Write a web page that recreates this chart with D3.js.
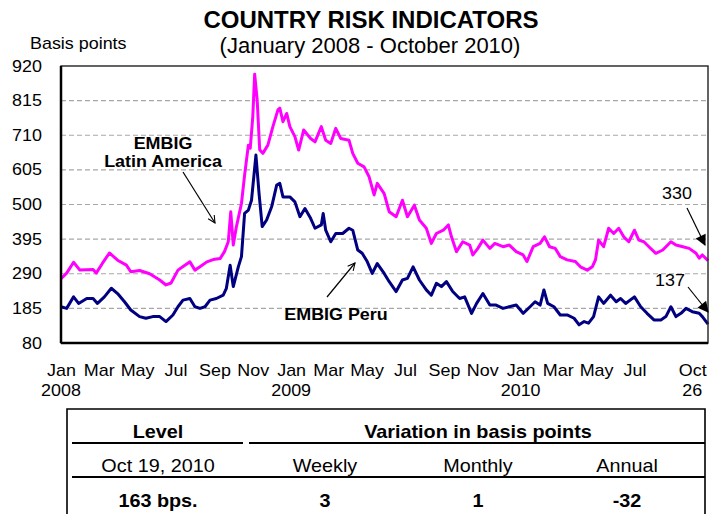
<!DOCTYPE html>
<html>
<head>
<meta charset="utf-8">
<title>Country Risk Indicators</title>
<style>
  body { margin: 0; background: #fff; }
  svg text { font-family: "Liberation Sans", Arial, sans-serif; fill: #000; }
  .grid line { stroke: #a8a8a8; stroke-width: 1.2; stroke-dasharray: 5,3; }
  .axis path, .axis line { display: none; }
  .axis text { font-size: 16px; }
</style>
</head>
<body>
<svg width="713" height="514"></svg>
<script src="https://d3js.org/d3.v7.min.js"></script>
<script>
// EMBIG Latin America (basis points)
var latamDates = ["2008-01-01","2008-01-10","2008-01-21","2008-01-31","2008-02-21","2008-02-26","2008-03-07","2008-03-18","2008-03-31","2008-04-14","2008-04-21","2008-05-05","2008-05-21","2008-06-06","2008-06-16","2008-06-24","2008-07-05","2008-07-16","2008-07-24","2008-08-01","2008-08-09","2008-08-20","2008-08-30","2008-09-10","2008-09-17","2008-09-23","2008-09-27","2008-10-01","2008-10-06","2008-10-14","2008-10-19","2008-10-25","2008-10-28","2008-11-01","2008-11-04","2008-11-08","2008-11-12","2008-11-17","2008-11-25","2008-12-03","2008-12-11","2008-12-14","2008-12-19","2008-12-25","2008-12-30","2009-01-07","2009-01-13","2009-01-21","2009-02-01","2009-02-08","2009-02-18","2009-02-25","2009-03-05","2009-03-13","2009-03-21","2009-04-03","2009-04-09","2009-04-17","2009-04-27","2009-05-05","2009-05-13","2009-05-18","2009-05-29","2009-06-06","2009-06-17","2009-06-27","2009-07-05","2009-07-16","2009-07-24","2009-08-04","2009-08-12","2009-08-20","2009-08-31","2009-09-08","2009-09-13","2009-09-21","2009-10-01","2009-10-12","2009-10-17","2009-10-25","2009-11-02","2009-11-13","2009-11-21","2009-12-04","2009-12-14","2009-12-25","2010-01-05","2010-01-11","2010-01-21","2010-02-01","2010-02-08","2010-02-16","2010-02-25","2010-03-05","2010-03-16","2010-03-29","2010-04-06","2010-04-17","2010-04-25","2010-04-30","2010-05-05","2010-05-13","2010-05-21","2010-05-29","2010-06-06","2010-06-14","2010-06-22","2010-07-01","2010-07-08","2010-07-16","2010-07-24","2010-08-04","2010-08-15","2010-08-28","2010-09-05","2010-09-16","2010-09-26","2010-10-07","2010-10-12","2010-10-17","2010-10-26"];
var latamValues = [275,292,325,301,303,292,322,353,331,316,296,300,290,271,256,262,301,316,326,301,311,326,333,336,357,387,478,377,433,503,589,680,671,766,895,817,666,655,680,736,787,792,751,776,736,706,665,726,700,690,736,695,685,731,700,695,655,625,614,584,529,564,533,478,463,513,463,498,453,428,382,412,422,438,402,357,387,377,347,367,392,367,382,372,377,357,347,327,372,382,402,372,367,342,332,327,311,301,311,332,392,372,428,412,428,402,387,422,392,387,372,352,362,387,377,372,367,352,337,347,330];

// EMBIG Peru (basis points)
var peruDates = ["2008-01-01","2008-01-10","2008-01-21","2008-01-29","2008-02-11","2008-02-21","2008-02-28","2008-03-10","2008-03-21","2008-03-31","2008-04-11","2008-04-21","2008-05-05","2008-05-15","2008-05-26","2008-06-06","2008-06-16","2008-06-27","2008-07-05","2008-07-13","2008-07-24","2008-08-01","2008-08-09","2008-08-17","2008-08-25","2008-09-04","2008-09-15","2008-09-20","2008-09-26","2008-10-01","2008-10-09","2008-10-14","2008-10-19","2008-10-25","2008-10-30","2008-11-06","2008-11-11","2008-11-16","2008-11-23","2008-12-01","2008-12-09","2008-12-14","2008-12-19","2008-12-30","2009-01-07","2009-01-15","2009-01-23","2009-02-01","2009-02-08","2009-02-18","2009-02-21","2009-02-25","2009-03-05","2009-03-13","2009-03-24","2009-04-03","2009-04-09","2009-04-17","2009-04-24","2009-05-02","2009-05-10","2009-05-18","2009-05-29","2009-06-06","2009-06-17","2009-06-27","2009-07-05","2009-07-14","2009-07-24","2009-08-04","2009-08-12","2009-08-20","2009-08-28","2009-09-05","2009-09-15","2009-09-26","2009-10-04","2009-10-15","2009-10-23","2009-11-02","2009-11-13","2009-11-23","2009-12-04","2009-12-14","2009-12-25","2010-01-05","2010-01-16","2010-01-24","2010-02-01","2010-02-07","2010-02-13","2010-02-23","2010-03-05","2010-03-16","2010-03-27","2010-04-04","2010-04-12","2010-04-19","2010-04-27","2010-05-05","2010-05-13","2010-05-24","2010-06-02","2010-06-09","2010-06-17","2010-07-01","2010-07-11","2010-07-21","2010-08-01","2010-08-12","2010-08-20","2010-08-28","2010-09-05","2010-09-13","2010-09-21","2010-10-01","2010-10-12","2010-10-17","2010-10-26"];
var peruValues = [190,185,220,200,215,215,200,220,246,230,205,180,160,155,160,160,145,165,190,210,215,190,185,190,210,215,225,246,316,251,311,342,473,483,513,650,533,433,453,493,559,564,523,523,508,463,488,458,428,438,473,422,387,412,412,428,422,362,352,327,291,321,291,266,236,271,276,311,271,241,225,261,251,266,236,215,220,170,200,230,195,195,185,190,195,170,190,205,195,241,200,190,165,165,155,135,145,140,160,220,200,225,205,215,200,220,190,170,150,150,160,190,160,170,185,175,170,160,137];

var yTicks = [80,185,290,395,500,605,710,815,920];
var monthTicks = ["2008-01-01","2008-03-01","2008-05-01","2008-07-01","2008-09-01","2008-11-01","2009-01-01","2009-03-01","2009-05-01","2009-07-01","2009-09-01","2009-11-01","2010-01-01","2010-03-01","2010-05-01","2010-07-01","2010-10-01"];
var yearTicks = ["2008-01-01","2009-01-01","2010-01-01","2010-10-01"];
var yearLabels = ["2008","2009","2010","26"];

var tableHead = ["Level","Variation in basis points"];
var tableSub = ["Oct 19, 2010","Weekly","Monthly","Annual"];
var tableVals = ["163 bps.","3","1","-32"];

var parse = d3.timeParse("%Y-%m-%d");
var SX = 1.12; // text in the picture is a little wide

var margin = {left: 61, right: 5, top: 66, bottom: 171};
var svg = d3.select("svg");
var W = 713, H = 514;
var x0 = margin.left, x1 = W - margin.right, y0 = margin.top, y1 = H - margin.bottom;

var x = d3.scaleTime()
  .domain([parse("2008-01-01"), parse("2010-10-26")])
  .range([x0, x1]);
var y = d3.scaleLinear()
  .domain([80, 920])
  .range([y1, y0]);

function label(txt, px, py, size, weight, anchor, sx) {
  return svg.append("text")
    .attr("transform", "translate(" + px + "," + py + ") scale(" + (sx || 1) + ",1)")
    .attr("text-anchor", anchor || "middle")
    .style("font-size", size + "px")
    .style("font-weight", weight || "normal")
    .text(txt);
}

// titles
label("COUNTRY RISK INDICATORS", 371, 28, 24, "bold");
label("(January 2008 - October 2010)", 370, 53, 22);
label("Basis points", 30, 49, 16, "normal", "start", SX);

// grid
svg.append("g").attr("class", "grid")
  .selectAll("line")
  .data(yTicks.slice(1, -1))
  .enter().append("line")
  .attr("x1", x0).attr("x2", x1)
  .attr("y1", function(d) { return y(d); })
  .attr("y2", function(d) { return y(d); });

// series
var line = d3.line()
  .x(function(d) { return x(d[0]); })
  .y(function(d) { return y(d[1]); });

var latam = latamDates.map(function(d, i) { return [parse(d), latamValues[i]]; });
var peru = peruDates.map(function(d, i) { return [parse(d), peruValues[i]]; });

svg.append("path").datum(latam)
  .attr("d", line)
  .attr("fill", "none").attr("stroke", "#ff00ff")
  .attr("stroke-width", 3).attr("stroke-linejoin", "round");

svg.append("path").datum(peru)
  .attr("d", line)
  .attr("fill", "none").attr("stroke", "#000080")
  .attr("stroke-width", 3).attr("stroke-linejoin", "round");

// frame
svg.append("rect")
  .attr("x", x0).attr("y", y0)
  .attr("width", x1 - x0).attr("height", y1 - y0)
  .attr("fill", "none").attr("stroke", "#222").attr("stroke-width", 1.4);
svg.append("line").attr("x1", x0).attr("x2", x0).attr("y1", y0).attr("y2", y1)
  .attr("stroke", "#000").attr("stroke-width", 2.5);
svg.append("line").attr("x1", x0).attr("x2", x1).attr("y1", y1).attr("y2", y1)
  .attr("stroke", "#000").attr("stroke-width", 2.5);

// axes
var yAxis = d3.axisLeft(y).tickValues(yTicks).tickSize(0).tickPadding(17);
svg.append("g").attr("class", "axis")
  .attr("transform", "translate(" + x0 + ",0)")
  .call(yAxis)
  .selectAll("text").attr("transform", "scale(" + SX + ",1)");

var xAxis = d3.axisBottom(x)
  .tickValues(monthTicks.map(parse))
  .tickFormat(d3.timeFormat("%b"))
  .tickSize(0).tickPadding(22);
svg.append("g").attr("class", "axis")
  .attr("transform", "translate(0," + y1 + ")")
  .call(xAxis)
  .selectAll("text").attr("transform", "scale(" + SX + ",1)");

svg.append("g").selectAll("text")
  .data(yearTicks)
  .enter().append("text")
  .attr("transform", function(d) { return "translate(" + x(parse(d)) + ",396) scale(" + SX + ",1)"; })
  .attr("text-anchor", "middle")
  .style("font-size", "16px")
  .text(function(d, i) { return yearLabels[i]; });

// annotations
var defs = svg.append("defs");
defs.append("marker").attr("id", "open")
  .attr("viewBox", "0 0 10 10").attr("refX", 9).attr("refY", 5)
  .attr("markerWidth", 9).attr("markerHeight", 9).attr("orient", "auto")
  .attr("markerUnits", "userSpaceOnUse")
  .append("path").attr("d", "M1,1 L9,5 L1,9").attr("fill", "none").attr("stroke", "#000").attr("stroke-width", 1.2);
defs.append("marker").attr("id", "solid")
  .attr("viewBox", "0 0 10 10").attr("refX", 9).attr("refY", 5)
  .attr("markerWidth", 13).attr("markerHeight", 11).attr("orient", "auto")
  .attr("markerUnits", "userSpaceOnUse")
  .append("path").attr("d", "M0,0 L10,5 L0,10 Z").attr("fill", "#000");

function arrow(ax, ay, bx, by, head) {
  svg.append("line")
    .attr("x1", ax).attr("y1", ay).attr("x2", bx).attr("y2", by)
    .attr("stroke", "#000").attr("stroke-width", 1.2)
    .attr("marker-end", "url(#" + head + ")");
}

label("EMBIG", 163, 149, 16, "bold", "middle", SX);
label("Latin America", 163, 167, 16, "bold", "middle", SX);
arrow(183, 172, 215, 223, "open");

label("EMBIG Peru", 336, 320, 16, "bold", "middle", SX);
arrow(327, 297, 355, 263, "open");

label("330", 677, 199, 16, "normal", "middle", SX);
arrow(687, 208, 705, 245, "solid");
label("137", 670, 286, 16, "normal", "middle", SX);
arrow(688, 287, 708, 312, "solid");

// table
svg.append("path")
  .attr("d", "M67,514 V409 H705 V514")
  .attr("fill", "none").attr("stroke", "#000").attr("stroke-width", 1.6);
svg.append("line").attr("x1", 72).attr("x2", 243).attr("y1", 443).attr("y2", 443)
  .attr("stroke", "#000").attr("stroke-width", 2);
svg.append("line").attr("x1", 249).attr("x2", 705).attr("y1", 443).attr("y2", 443)
  .attr("stroke", "#000").attr("stroke-width", 2);
svg.append("line").attr("x1", 72).attr("x2", 705).attr("y1", 477).attr("y2", 477)
  .attr("stroke", "#000").attr("stroke-width", 2);

var colX = [158, 325, 478, 627];
label(tableHead[0], colX[0], 438, 18, "bold", "middle", 1.1);
label(tableHead[1], colX[2], 438, 18, "bold", "middle", 1.1);
tableSub.forEach(function(t, i) { label(t, colX[i], 472, 18, "normal", "middle", 1.1); });
tableVals.forEach(function(t, i) { label(t, colX[i], 507, 18, "bold", "middle", 1.1); });
</script>
</body>
</html>
